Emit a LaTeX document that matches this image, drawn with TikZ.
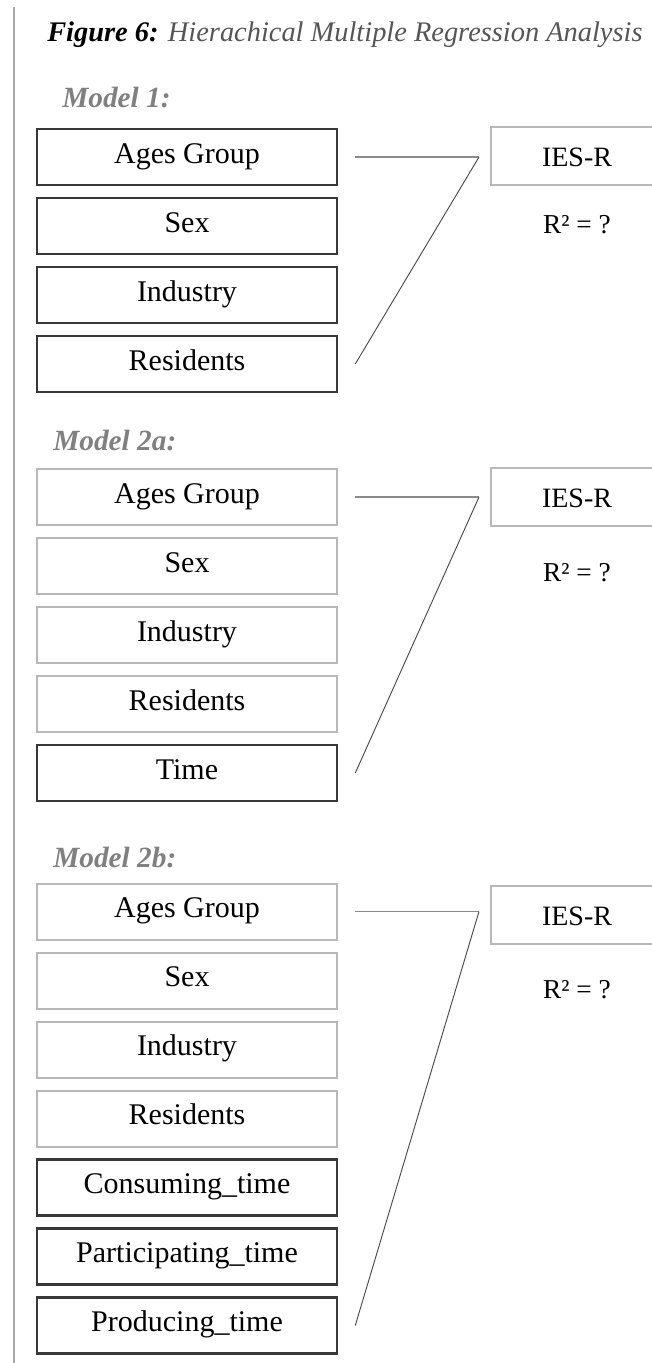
\documentclass[tikz,border=0pt]{standalone}
\usepackage{fontspec}
\setmainfont{Liberation Serif}
\usetikzlibrary{calc}

\definecolor{titlegray}{HTML}{555555}
\definecolor{labelgray}{HTML}{808080}
\definecolor{lightedge}{HTML}{B8B8B8}
\definecolor{darkedge}{HTML}{383838}
\definecolor{barcol}{HTML}{A8A8A8}
\definecolor{linkgray}{HTML}{8A8A8A}
\definecolor{diaggray}{HTML}{4A4A4A}

\tikzset{
  varbox/.style={rectangle, minimum width=225pt, minimum height=42pt,
    inner sep=0pt, text height=14pt, text depth=5pt,
    font=\fontsize{22.5}{24}\selectfont, text=black},
  lightbox/.style={varbox, draw=lightedge, line width=1.5pt},
  darkbox/.style={varbox, draw=darkedge, line width=1.9pt},
  outbox/.style={rectangle, minimum width=129pt, minimum height=44pt,
    inner sep=0pt, draw=lightedge, line width=1.5pt,
    text height=15.5pt, text depth=0.5pt,
    font=\fontsize{21}{23}\selectfont},
  rsq/.style={inner sep=0pt, font=\fontsize{20.5}{22}\selectfont},
  modellabel/.style={anchor=base west, inner sep=0pt, text=labelgray,
    font=\fontsize{22}{24}\selectfont\bfseries\itshape},
  hlink/.style={draw=linkgray, line width=1.1pt},
  dlink/.style={draw=diaggray, line width=0.7pt}
}

\begin{document}
\begin{tikzpicture}[x=0.75pt, y=-0.75pt]
  \useasboundingbox (0,0) rectangle (652,1363);

  % margin rule on the left
  \draw[barcol, line width=1.4pt] (14,7) -- (14,1363);

  % caption
  \node[anchor=base west, inner sep=0pt, font=\fontsize{21.3}{23}\selectfont\itshape, text=titlegray]
    (title) at (47,42) {\textcolor{black}{\bfseries Figure 6:} Hierachical Multiple Regression Analysis};

  % ---------------- Model 1 ----------------
  \node[modellabel] (lab1) at (62,108) {Model 1:};
  \node[darkbox] (ag1)  at (187,157) {Ages Group};
  \node[darkbox] (sex1) at (187,226) {Sex};
  \node[darkbox] (ind1) at (187,295) {Industry};
  \node[darkbox] (res1) at (187,364) {Residents};
  \node[outbox]  (ies1) at (577,156) {IES-R};
  \node[rsq]     (r1)   at (577,224.5) {R² = ?};

  \coordinate (h1s) at ($(ag1.east)+(17,0)$);
  \coordinate (h1e) at ($(h1s -| ies1.west)+(-11,0)$);
  \coordinate (d1e) at ($(res1.east)+(17,0)$);
  \draw[hlink] (h1s) -- (h1e);
  \draw[dlink] (h1e) -- (d1e);

  % ---------------- Model 2a ----------------
  \node[modellabel] (lab2a) at (53,450) {Model 2a:};
  \node[lightbox] (ag2)  at (187,497) {Ages Group};
  \node[lightbox] (sex2) at (187,566) {Sex};
  \node[lightbox] (ind2) at (187,635) {Industry};
  \node[lightbox] (res2) at (187,704) {Residents};
  \node[darkbox]  (tim2) at (187,773) {Time};
  \node[outbox]   (ies2) at (577,497) {IES-R};
  \node[rsq]      (r2)   at (577,573) {R² = ?};

  \coordinate (h2s) at ($(ag2.east)+(17,0)$);
  \coordinate (h2e) at ($(h2s -| ies2.west)+(-11,0)$);
  \coordinate (d2e) at ($(tim2.east)+(17,0)$);
  \draw[hlink] (h2s) -- (h2e);
  \draw[dlink] (h2e) -- (d2e);

  % ---------------- Model 2b ----------------
  \node[modellabel] (lab2b) at (53,867) {Model 2b:};
  \node[lightbox] (ag3)  at (187,911.5)  {Ages Group};
  \node[lightbox] (sex3) at (187,980.5)  {Sex};
  \node[lightbox] (ind3) at (187,1049.5) {Industry};
  \node[lightbox] (res3) at (187,1118.5) {Residents};
  \node[darkbox]  (con3) at (187,1187.5) {Consuming\_time};
  \node[darkbox]  (par3) at (187,1256.5) {Participating\_time};
  \node[darkbox]  (pro3) at (187,1325.5) {Producing\_time};
  \node[outbox]   (ies3) at (577,915) {IES-R};
  \node[rsq]      (r3)   at (577,990) {R² = ?};

  \coordinate (h3s) at ($(ag3.east)+(17,0)$);
  \coordinate (h3e) at ($(h3s -| ies3.west)+(-11,0)$);
  \coordinate (d3e) at ($(pro3.east)+(17,0)$);
  \draw[hlink] (h3s) -- (h3e);
  \draw[dlink] (h3e) -- (d3e);
\end{tikzpicture}
\end{document}
